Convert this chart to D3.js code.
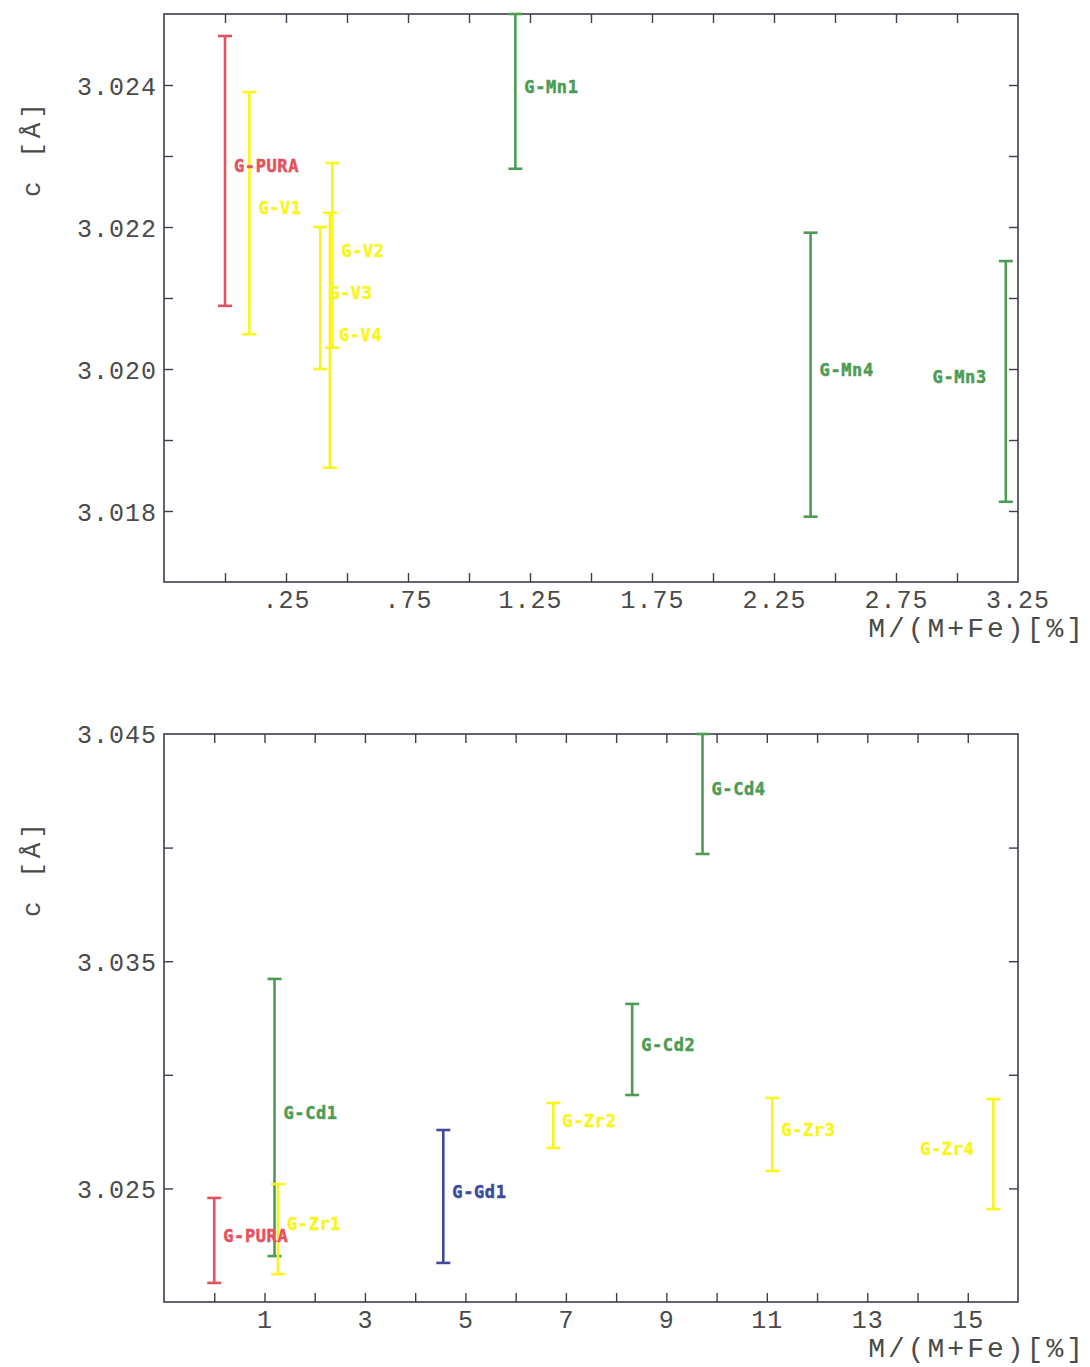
<!DOCTYPE html>
<html>
<head>
<meta charset="utf-8">
<script src="https://cdn.jsdelivr.net/npm/d3@7"></script>
<style>
  html, body { margin: 0; padding: 0; background: #ffffff; }
  svg { display: block; }
</style>
</head>
<body>
<svg id="chart" width="1090" height="1367"></svg>
<script>
// ---- Upper panel: low-dopant series (V, Mn) ----
const topSamples = ["G-PURA", "G-V1", "G-V3", "G-V2", "G-V4", "G-Mn1", "G-Mn4", "G-Mn3"];
const topDopant  = ["pure", "V", "V", "V", "V", "Mn", "Mn", "Mn"];
const topX       = [0.00, 0.10, 0.39, 0.44, 0.43, 1.19, 2.40, 3.20];
const topLow     = [3.02089, 3.02049, 3.02000, 3.02030, 3.01861, 3.02282, 3.01792, 3.01813];
const topHigh    = [3.02469, 3.02390, 3.02200, 3.02290, 3.02220, 3.02500, 3.02192, 3.02152];
const topLabelSide = ["right", "right", "right", "right", "right", "right", "right", "left"];

const topXDomain = [-0.25, 3.25];
const topYDomain = [3.017, 3.025];
const topXTicks  = [0, 0.25, 0.5, 0.75, 1, 1.25, 1.5, 1.75, 2, 2.25, 2.5, 2.75, 3];
const topXTickLabels = ["", ".25", "", ".75", "", "1.25", "", "1.75", "", "2.25", "", "2.75", ""];
const topXEdgeLabel = [3.25, "3.25"];
const topYTicks  = [3.018, 3.019, 3.020, 3.021, 3.022, 3.023, 3.024];
const topYTickLabels = ["3.018", "", "3.020", "", "3.022", "", "3.024"];

// ---- Lower panel: higher-dopant series (Cd, Zr, Gd) ----
const botSamples = ["G-PURA", "G-Cd1", "G-Zr1", "G-Gd1", "G-Zr2", "G-Cd2", "G-Cd4", "G-Zr3", "G-Zr4"];
const botDopant  = ["pure", "Cd", "Zr", "Gd", "Zr", "Cd", "Cd", "Zr", "Zr"];
const botX       = [0.00, 1.20, 1.27, 4.56, 6.75, 8.32, 9.72, 11.11, 15.51];
const botLow     = [3.02084, 3.02202, 3.02123, 3.02172, 3.02678, 3.02911, 3.03972, 3.02577, 3.02409];
const botHigh    = [3.02458, 3.03422, 3.02519, 3.02757, 3.02876, 3.03312, 3.04500, 3.02898, 3.02893];
const botLabelSide = ["right", "right", "right", "right", "right", "right", "right", "right", "left"];

const botXDomain = [-1, 16];
const botYDomain = [3.020, 3.045];
const botXTicks  = [0, 1, 2, 3, 4, 5, 6, 7, 8, 9, 10, 11, 12, 13, 14, 15];
const botXTickLabels = ["", "1", "", "3", "", "5", "", "7", "", "9", "", "11", "", "13", "", "15"];
const botYTicks  = [3.025, 3.030, 3.035, 3.040];
const botYTickLabels = ["3.025", "", "3.035", ""];
const botYEdgeLabel = [3.045, "3.045"];

const xTitle = "M/(M+Fe)[%]";
const yTitle = "c [Å]";

const dopantColor = {
  pure: "#e6505c",
  V:    "#f9f51c",
  Zr:   "#f9f51c",
  Mn:   "#4e9b55",
  Cd:   "#4e9b55",
  Gd:   "#3d4a99"
};

const svg = d3.select("#chart");
const frameColor = "#3b3f4c";
const textColor = "#4a4a4a";
const tickFont = "'Liberation Mono', 'DejaVu Sans Mono', monospace";
const labelFont = "'DejaVu Sans Mono', monospace";

function drawPanel(cfg) {
  const { left, right, top, bottom } = cfg.box;
  const x = d3.scaleLinear().domain(cfg.xDomain).range([left, right]);
  const y = d3.scaleLinear().domain(cfg.yDomain).range([bottom, top]);
  const g = svg.append("g");

  // inward ticks on all four sides
  const tickLen = 9;
  const xPad = 8;
  const xLabelMap = new Map(cfg.xTicks.map((t, i) => [t, cfg.xTickLabels[i]]));
  const yLabelMap = new Map(cfg.yTicks.map((t, i) => [t, cfg.yTickLabels[i]]));

  const axB = g.append("g").attr("transform", `translate(0,${bottom})`)
    .call(d3.axisBottom(x).tickValues(cfg.xTicks).tickSize(-tickLen).tickPadding(xPad)
      .tickFormat(d => xLabelMap.get(d)));
  const axT = g.append("g").attr("transform", `translate(0,${top})`)
    .call(d3.axisTop(x).tickValues(cfg.xTicks).tickSize(-tickLen).tickFormat(""));
  const axL = g.append("g").attr("transform", `translate(${left},0)`)
    .call(d3.axisLeft(y).tickValues(cfg.yTicks).tickSize(-tickLen).tickPadding(7)
      .tickFormat(d => yLabelMap.get(d)));
  const axR = g.append("g").attr("transform", `translate(${right},0)`)
    .call(d3.axisRight(y).tickValues(cfg.yTicks).tickSize(-tickLen).tickFormat(""));

  [axB, axT, axL, axR].forEach(a => {
    a.select(".domain").remove();
    a.selectAll(".tick line").attr("stroke", frameColor).attr("stroke-width", 1.4);
    a.selectAll(".tick text")
      .attr("fill", textColor)
      .style("font-family", tickFont)
      .style("font-size", "25px")
      .style("letter-spacing", "1px");
  });
  axB.selectAll(".tick text").attr("dy", "0.71em");
  axL.selectAll(".tick text").attr("dy", "0.36em");

  // labels sitting on the frame corners
  if (cfg.xEdgeLabel) {
    g.append("text")
      .attr("x", x(cfg.xEdgeLabel[0])).attr("y", bottom + xPad).attr("dy", "0.71em")
      .attr("text-anchor", "middle").attr("fill", textColor)
      .style("font-family", tickFont).style("font-size", "25px").style("letter-spacing", "1px")
      .text(cfg.xEdgeLabel[1]);
  }
  if (cfg.yEdgeLabel) {
    g.append("text")
      .attr("x", left - 7).attr("y", y(cfg.yEdgeLabel[0])).attr("dy", "0.36em")
      .attr("text-anchor", "end").attr("fill", textColor)
      .style("font-family", tickFont).style("font-size", "25px").style("letter-spacing", "1px")
      .text(cfg.yEdgeLabel[1]);
  }

  // frame
  g.append("rect")
    .attr("x", left).attr("y", top)
    .attr("width", right - left).attr("height", bottom - top)
    .attr("fill", "none").attr("stroke", frameColor).attr("stroke-width", 1.6);

  // axis titles
  g.append("text")
    .attr("x", 1086).attr("y", cfg.xTitleY)
    .attr("text-anchor", "end").attr("fill", textColor)
    .style("font-family", tickFont).style("font-size", "28px").style("letter-spacing", "3px")
    .text(xTitle);
  g.append("text")
    .attr("transform", `translate(40,${(top + bottom) / 2 - 150}) rotate(-90)`)
    .attr("text-anchor", "middle").attr("fill", textColor)
    .style("font-family", tickFont).style("font-size", "26px").style("letter-spacing", "4px")
    .text(yTitle);

  // error bars with caps
  const rows = cfg.samples.map((s, i) => ({
    name: s, dopant: cfg.dopant[i], xv: cfg.xs[i], lo: cfg.lows[i], hi: cfg.highs[i], side: cfg.sides[i]
  }));
  const capHalf = 7;
  const bars = g.append("g").selectAll("g.bar").data(rows).join("g").attr("class", "bar");
  bars.append("line")
    .attr("x1", d => x(d.xv)).attr("x2", d => x(d.xv))
    .attr("y1", d => y(d.hi)).attr("y2", d => y(d.lo))
    .attr("stroke", d => dopantColor[d.dopant]).attr("stroke-width", 2.6);
  bars.append("line")
    .attr("x1", d => x(d.xv) - capHalf).attr("x2", d => x(d.xv) + capHalf)
    .attr("y1", d => y(d.hi)).attr("y2", d => y(d.hi))
    .attr("stroke", d => dopantColor[d.dopant]).attr("stroke-width", 2.6);
  bars.append("line")
    .attr("x1", d => x(d.xv) - capHalf).attr("x2", d => x(d.xv) + capHalf)
    .attr("y1", d => y(d.lo)).attr("y2", d => y(d.lo))
    .attr("stroke", d => dopantColor[d.dopant]).attr("stroke-width", 2.6);

  // sample names beside each bar, at the bar's midpoint
  g.append("g").selectAll("text").data(rows).join("text")
    .attr("x", d => d.side === "left" ? x(d.xv) - 19 : x(d.xv) + 9)
    .attr("y", d => y((d.lo + d.hi) / 2) - 5)
    .attr("dy", "0.36em")
    .attr("text-anchor", d => d.side === "left" ? "end" : "start")
    .attr("fill", d => dopantColor[d.dopant])
    .attr("stroke", d => dopantColor[d.dopant]).attr("stroke-width", 0.5)
    .style("font-family", labelFont).style("font-weight", "bold")
    .style("font-size", "17px").style("letter-spacing", "0.6px")
    .text(d => d.name);
}

drawPanel({
  box: { left: 164, right: 1018, top: 14, bottom: 582 },
  xDomain: topXDomain, yDomain: topYDomain,
  xTicks: topXTicks, xTickLabels: topXTickLabels, xEdgeLabel: topXEdgeLabel,
  yTicks: topYTicks, yTickLabels: topYTickLabels, yEdgeLabel: null,
  samples: topSamples, dopant: topDopant, xs: topX, lows: topLow, highs: topHigh, sides: topLabelSide,
  xTitleY: 637
});

drawPanel({
  box: { left: 164, right: 1018, top: 734, bottom: 1302 },
  xDomain: botXDomain, yDomain: botYDomain,
  xTicks: botXTicks, xTickLabels: botXTickLabels, xEdgeLabel: null,
  yTicks: botYTicks, yTickLabels: botYTickLabels, yEdgeLabel: botYEdgeLabel,
  samples: botSamples, dopant: botDopant, xs: botX, lows: botLow, highs: botHigh, sides: botLabelSide,
  xTitleY: 1357
});
</script>
</body>
</html>
